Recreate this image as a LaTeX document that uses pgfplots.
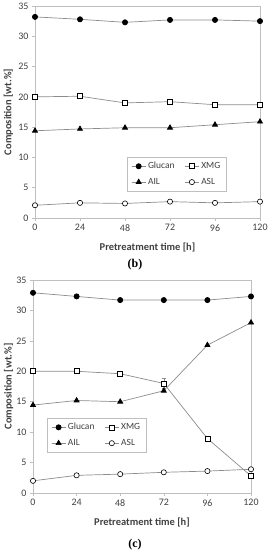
\documentclass[border=0pt]{standalone}
\usepackage{pgfplots}
\pgfplotsset{compat=1.18}
\usepackage{fontspec}
\setmainfont{Carlito}
\newfontfamily\serifb{Liberation Serif}
\definecolor{linegray}{HTML}{8C8C8C}
\definecolor{framegray}{HTML}{BFBFBF}
\definecolor{textgray}{HTML}{404040}
\pgfplotsset{
 mystyle/.style={
  scale only axis, xmin=0, xmax=120, ymin=0, ymax=35,
  xtick={0,24,48,72,96,120}, ytick={0,5,10,15,20,25,30,35},
  axis line style={framegray}, tick style={framegray, line width=0.6bp},
  tick align=outside, major tick length=3bp, tick pos=left,
  tick label style={font=\fontsize{10}{11}\selectfont, text=textgray},
  /pgf/number format/assume math mode=true,
  xlabel={Pretreatment time [h]}, ylabel={Composition [wt.\%]},
  xlabel style={font=\bfseries\fontsize{10.5}{12}\selectfont, text=textgray, at={(axis description cs:0.5,0)}, anchor=center, yshift=-29bp},
  ylabel style={font=\bfseries\fontsize{10.5}{12}\selectfont, text=textgray, at={(axis description cs:-0.118,0.5)}, anchor=center},
  legend columns=2,
  legend style={draw=framegray, line width=0.6bp, font=\fontsize{9.5}{11}\selectfont, text=textgray, inner xsep=4bp, inner ysep=3bp,
    /tikz/every even column/.append style={column sep=8bp}, row sep=4bp, legend cell align=left},
  legend image code/.code={\draw[mark repeat=2,mark phase=2,#1] plot coordinates {(0bp,0bp)(7bp,0bp)(14bp,0bp)};},
 },
 gl/.style={linegray, line width=0.7bp, mark=*, mark size=2.6bp, mark options={draw=black, fill=black}},
 xm/.style={linegray, line width=0.7bp, mark=square*, mark size=2.5bp, mark options={draw=black, fill=white, line width=0.6bp}},
 ai/.style={linegray, line width=0.7bp, mark=triangle*, mark size=2.9bp, mark options={draw=black, fill=black}},
 as/.style={linegray, line width=0.7bp, mark=*, mark size=2.6bp, mark options={draw=black, fill=white, line width=0.6bp}},
}
\begin{document}
\begin{tikzpicture}[x=1bp,y=1bp]
\useasboundingbox (0,0) rectangle (271,550);
% (b)
\begin{axis}[mystyle, at={(35bp,332bp)}, anchor=south west, width=225bp, height=212bp,
  legend style={at={(axis description cs:0.409,0.288)}, anchor=north west}]
\addplot[gl] coordinates {(0,33.2)(24,32.8)(48,32.3)(72,32.7)(96,32.7)(120,32.5)};
\addlegendentry{Glucan}
\addplot[xm] coordinates {(0,20.0)(24,20.1)(48,19.0)(72,19.2)(96,18.7)(120,18.7)};
\addlegendentry{XMG}
\addplot[ai] coordinates {(0,14.4)(24,14.7)(48,14.9)(72,14.9)(96,15.4)(120,15.9)};
\addlegendentry{AIL}
\addplot[as] coordinates {(0,2.1)(24,2.5)(48,2.4)(72,2.7)(96,2.5)(120,2.7)};
\addlegendentry{ASL}
\end{axis}
\node[font=\serifb\bfseries\fontsize{12}{14}\selectfont] at (135,285) {(b)};
% (c)
\begin{axis}[mystyle, at={(33bp,57bp)}, anchor=south west, width=218bp, height=213bp,
  ylabel style={at={(axis description cs:-0.112,0.5)}},
  legend style={at={(axis description cs:0.064,0.352)}, anchor=north west}]
\addplot[gl] coordinates {(0,32.9)(24,32.3)(48,31.7)(72,31.7)(96,31.7)(120,32.3)};
\addlegendentry{Glucan}
\addplot[xm, error bars/.cd, y dir=both, y explicit, error bar style={linegray, line width=0.5bp}, error mark options={rotate=90, mark size=2bp, linegray}] coordinates {(0,20.0) +- (0,0.2) (24,20.0) +- (0,0.1) (48,19.6) +- (0,0.2) (72,18.0) +- (0,0.8) (96,8.95) +- (0,0.3) (120,2.8) +- (0,0.2)};
\addlegendentry{XMG}
\addplot[ai] coordinates {(0,14.45)(24,15.2)(48,15.0)(72,16.8)(96,24.3)(120,28.0)};
\addlegendentry{AIL}
\addplot[as] coordinates {(0,2.0)(24,2.9)(48,3.1)(72,3.4)(96,3.6)(120,3.9)};
\addlegendentry{ASL}
\end{axis}
\node[font=\serifb\bfseries\fontsize{12}{14}\selectfont] at (135,5) {(c)};
\end{tikzpicture}
\end{document}
